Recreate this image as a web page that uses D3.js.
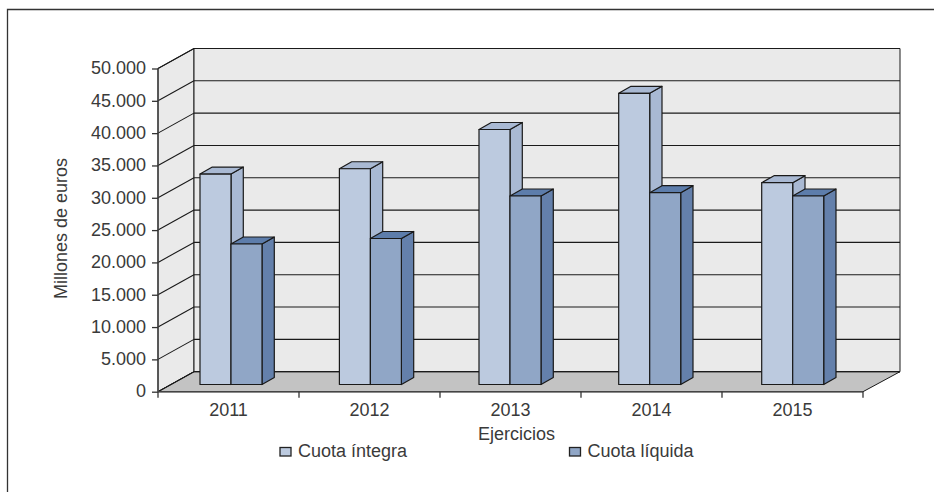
<!DOCTYPE html>
<html><head><meta charset="utf-8">
<script src="https://cdn.jsdelivr.net/npm/d3@7"></script>
<style>html,body{margin:0;background:#fff}svg{display:block}text{font-family:"Liberation Sans",Arial,sans-serif;fill:#3a3a3a}</style>
</head><body><svg id="c" width="934" height="492"></svg>
<script>
const categories = ["2011","2012","2013","2014","2015"];
const cuotaIntegra = [32560,33380,39450,45050,31220];
const cuotaLiquida = [21735,22590,29160,29670,29160];
const yTicks = [0,5000,10000,15000,20000,25000,30000,35000,40000,45000,50000];
const seriesNames = ["Cuota íntegra","Cuota líquida"];
const yTitle = "Millones de euros";
const xTitle = "Ejercicios";

const svg = d3.select("#c");
const X0=158, X1=863, Y0=391.7, Y1=68.5, DX=36, DY=-20;
const BDX=12.3, BDY=-7;
const FS=18;
const fmt = v => d3.format(",")(v).replace(/,/g,".");
const x = d3.scaleBand().domain(categories).range([X0,X1]);
const y = d3.scaleLinear().domain([0,50000]).range([Y0,Y1]);
// bar front-face left edges do not sit evenly in the source picture
const barX = d3.scaleOrdinal().domain(categories).range([200,339.4,479,618.7,761.7]);
const barW = 31;
const base = 384.5;
const barY = v => y(v) - (Y0-base);
const stroke="#1a1a1a";
const poly=(pts,fill,sw=1.2)=>svg.append("polygon").attr("points",pts.map(p=>p.join(",")).join(" ")).attr("fill",fill).attr("stroke",stroke).attr("stroke-width",sw).attr("stroke-linejoin","round");
const line=(a,b,c,w=1.2,col=stroke)=>svg.append("line").attr("x1",a[0]).attr("y1",a[1]).attr("x2",b[0]).attr("y2",b[1]).attr("stroke",col).attr("stroke-width",w);

// frame
svg.append("path").attr("d","M7.5,492V9.5H934").attr("fill","none").attr("stroke","#333").attr("stroke-width",1.3);

// walls and floor
poly([[X0,Y0],[X0+DX,Y0+DY],[X0+DX,Y1+DY],[X0,Y1]],"#eaeaea",1);
poly([[X0+DX,Y0+DY],[X1+DX+1,Y0+DY],[X1+DX+1,Y1+DY],[X0+DX,Y1+DY]],"#eaeaea",1);
poly([[X0,Y0],[X1,Y0],[X1+DX+1,Y0+DY],[X0+DX,Y0+DY]],"#c3c3c3",1);
// gridlines
yTicks.forEach(t=>{
  line([X0,y(t)],[X0+DX,y(t)+DY],null,1.1);
  line([X0+DX,y(t)+DY],[X1+DX+1,y(t)+DY],null,1.1);
});
// axes
line([X0,Y1],[X0,Y0],null,1.4,"#444");
line([X0,Y0],[X1,Y0],null,1.4,"#444");

// bars
function bar(cat,v,i,front,top,side){
  const xl=barX(cat)+i*barW, xr=xl+barW, yt=barY(v);
  poly([[xr,yt],[xr+BDX,yt+BDY],[xr+BDX,base+BDY],[xr,base]],side);
  poly([[xl,yt],[xl+BDX,yt+BDY],[xr+BDX,yt+BDY],[xr,yt]],top);
  poly([[xl,yt],[xr,yt],[xr,base],[xl,base]],front);
}
categories.forEach((c,k)=>{
  bar(c,cuotaIntegra[k],0,"#bccadf","#a9b9d3","#a9b9d3");
  bar(c,cuotaLiquida[k],1,"#90a6c6","#5d7dab","#6480ab");
});

// y axis
const ay=svg.append("g").attr("transform",`translate(${X0},0)`).call(d3.axisLeft(y).tickValues(yTicks).tickFormat(fmt).tickSize(6).tickPadding(5));
ay.select(".domain").remove();
ay.selectAll("line").attr("stroke","#333").attr("stroke-width",1.3);
ay.selectAll("text").attr("font-size",FS).style("fill","#3a3a3a").attr("x",-12).attr("y",-0.5);
// x axis
const ax=svg.append("g").attr("transform",`translate(0,${Y0})`).call(d3.axisBottom(x).tickSize(0).tickPadding(11.5));
ax.select(".domain").remove();
ax.selectAll("text").attr("font-size",FS).style("fill","#3a3a3a");
[...categories.map(c=>x(c)),X1].forEach(px=>line([px,Y0],[px,Y0+6],null,1.3,"#333"));

svg.append("text").attr("transform","translate(67,228.5) rotate(-90)").attr("text-anchor","middle").attr("font-size",FS).text(yTitle);
svg.append("text").attr("x",516.5).attr("y",440).attr("text-anchor","middle").attr("font-size",FS).text(xTitle);

// legend
const leg=d3.scaleOrdinal().domain(seriesNames).range([280,569.5]);
const legCol=d3.scaleOrdinal().domain(seriesNames).range(["#bccadf","#90a6c6"]);
seriesNames.forEach(n=>{
  svg.append("rect").attr("x",leg(n)).attr("y",447.5).attr("width",11).attr("height",8.5).attr("fill",legCol(n)).attr("stroke","#222").attr("stroke-width",1.3);
  svg.append("text").attr("x",leg(n)+18).attr("y",457).attr("font-size",FS).text(n);
});
</script></body></html>
